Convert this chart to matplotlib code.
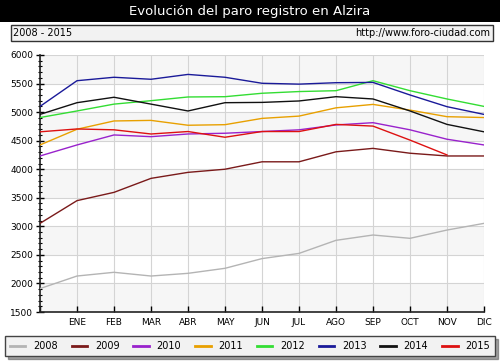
import numpy as np
import matplotlib
matplotlib.use("Agg")
import matplotlib.pyplot as plt
from matplotlib.patches import Rectangle

# datos: diciembre del año anterior + ENE..DIC
meses = ['', 'ENE', 'FEB', 'MAR', 'ABR', 'MAY', 'JUN', 'JUL', 'AGO', 'SEP', 'OCT', 'NOV', 'DIC']

paro_2008 = [1910, 2130, 2195, 2130, 2177, 2265, 2435, 2526, 2755, 2848, 2790, 2935, 3052]
paro_2009 = [3052, 3450, 3595, 3840, 3945, 4000, 4130, 4130, 4305, 4365, 4280, 4232, 4232]
paro_2010 = [4232, 4425, 4600, 4570, 4617, 4630, 4660, 4690, 4775, 4815, 4690, 4525, 4425]
paro_2011 = [4425, 4700, 4845, 4855, 4770, 4780, 4890, 4930, 5075, 5135, 5035, 4920, 4905]
paro_2012 = [4905, 5020, 5140, 5200, 5265, 5270, 5330, 5360, 5375, 5550, 5375, 5230, 5100]
paro_2013 = [5100, 5550, 5610, 5575, 5660, 5610, 5505, 5490, 5515, 5520, 5300, 5095, 4960]
paro_2014 = [4960, 5165, 5260, 5140, 5020, 5165, 5170, 5195, 5270, 5230, 5020, 4785, 4655]
paro_2015 = [4655, 4705, 4690, 4617, 4660, 4560, 4660, 4660, 4785, 4755, 4510, 4250]

series = {
    '2008': (paro_2008, '#b4b4b4'),
    '2009': (paro_2009, '#7a1a1a'),
    '2010': (paro_2010, '#9922cc'),
    '2011': (paro_2011, '#e8a000'),
    '2012': (paro_2012, '#33dd33'),
    '2013': (paro_2013, '#1a1a99'),
    '2014': (paro_2014, '#111111'),
    '2015': (paro_2015, '#dd1111'),
}

W, H = 500, 361
fig = plt.figure(figsize=(W / 100, H / 100), dpi=100)
fig.patch.set_facecolor('white')

# barra de titulo
fig.patches.append(Rectangle((0, 1 - 22 / H), 1, 22 / H, transform=fig.transFigure,
                             facecolor='black', edgecolor='none'))
fig.text(0.5, 1 - 12 / H, 'Evolución del paro registro en Alzira', color='white',
         ha='center', va='center', fontsize=9.5)

# caja de subtitulo
fig.patches.append(Rectangle((11 / W, 1 - 41 / H), 482 / W, 16 / H, transform=fig.transFigure,
                             facecolor='#f2f2f2', edgecolor='#333333', linewidth=1))
fig.text(13 / W, 1 - 33 / H, '2008 - 2015', ha='left', va='center', fontsize=7)
fig.text(490 / W, 1 - 33 / H, 'http://www.foro-ciudad.com', ha='right', va='center', fontsize=7)

ax = fig.add_axes([40 / W, 1 - 312 / H, 444 / W, 257 / H])
ax.set_facecolor('white')

# bandas alternas
for i, y0 in enumerate(range(1500, 6000, 500)):
    if i % 2 == 0:
        ax.axhspan(y0, y0 + 500, color='#f6f6f6', zorder=0, lw=0)

x = np.arange(len(meses))
for nombre, (vals, color) in series.items():
    ax.plot(x[:len(vals)], vals, color=color, lw=1, label=nombre, zorder=3)

ax.set_xlim(0, 12)
ax.set_ylim(1500, 6000)
ax.set_xticks(x)
ax.set_xticklabels(meses)
ax.set_yticks(range(1500, 6001, 500))
ax.set_yticks(range(1500, 6001, 100), minor=True)
ax.grid(True, which='major', color='#d4d4d4', lw=0.8, zorder=1)
ax.set_axisbelow(True)

for s in ['top', 'right']:
    ax.spines[s].set_visible(False)
for s in ['left', 'bottom']:
    ax.spines[s].set_color('#222222')
    ax.spines[s].set_linewidth(1.2)

ax.tick_params(axis='x', direction='in', length=4, width=1, labelsize=6.5, pad=4)
ax.tick_params(axis='y', which='major', direction='inout', length=6, width=1, labelsize=6.5, pad=2)
ax.tick_params(axis='y', which='minor', direction='inout', length=3, width=0.8)

leg = fig.legend(loc='lower left', bbox_to_anchor=(5 / W, 1 - 356 / H, 490 / W, 23 / H),
                 mode='expand', ncol=8, fontsize=7, handlelength=1.6, handletextpad=0.8,
                 frameon=True, fancybox=False, shadow=True, borderaxespad=0, borderpad=0.5)
leg.get_frame().set_facecolor('#f2f2f2')
leg.get_frame().set_edgecolor('#444444')
for ln in leg.get_lines():
    ln.set_linewidth(2)

fig.savefig('out.png', dpi=100)
